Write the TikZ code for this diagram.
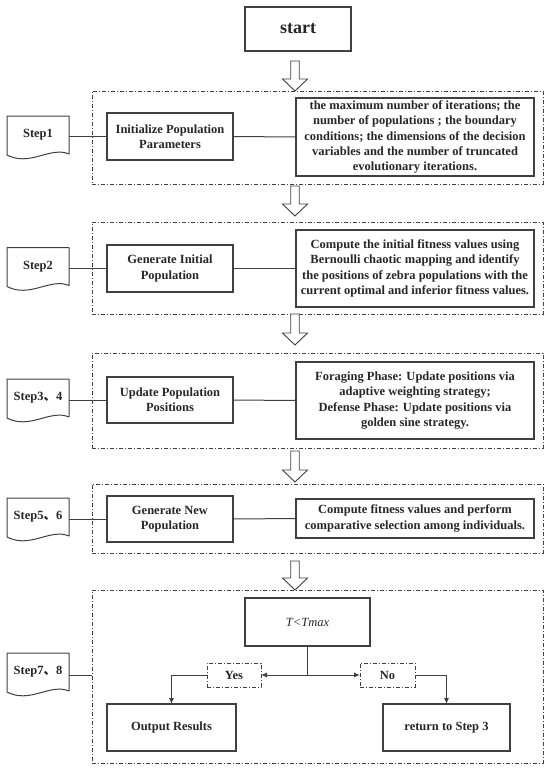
\documentclass[tikz,border=0pt]{standalone}
\usepackage{fontspec}
\setmainfont{Liberation Serif}
\newfontfamily\cjk{Noto Sans CJK SC}
\usetikzlibrary{calc,arrows.meta}
\definecolor{ln}{HTML}{404040}
\definecolor{txt}{HTML}{262626}
\newcommand\harrow[2]{\draw[hollow] let \p1=#1, \p2=#2 in (\x1-4.25pt,\y1) -- (\x1-4.25pt,\y2+12pt) -- (\x1-12.5pt,\y2+12pt) -- (\x1,\y2) -- (\x1+12.5pt,\y2+12pt) -- (\x1+4.25pt,\y2+12pt) -- (\x1+4.25pt,\y1) -- cycle;}
\newcommand\docshape[1]{\draw[docl] (#1.north west) -- (#1.north east) -- (#1.south east) .. controls ($(#1.south east)+(-19,-8)$) and ($(#1.south west)+(23,13)$) .. ($(#1.south west)+(0,1)$) -- cycle;}
\begin{document}
\begin{tikzpicture}[x=1pt,y=-1pt,
  every node/.style={inner sep=0pt, outer sep=0pt, text=txt, align=center, font=\fontsize{12.5}{15.3}\selectfont\bfseries},
  box/.style={draw=ln, line width=1.1pt, minimum width=126pt, minimum height=47pt},
  rbox/.style={draw=ln, line width=1.6pt, minimum width=238pt},
  dashbox/.style={draw=ln, line width=0.9pt, dash pattern=on 4pt off 2pt on 1pt off 2pt},
  dbox/.style={dashbox, minimum width=451pt},
  docn/.style={minimum width=62pt, minimum height=38pt},
  docl/.style={draw=ln, line width=1pt, line join=round},
  conn/.style={draw=ln, line width=1pt},
  tip/.style={conn, -{Latex[length=6pt,width=5pt]}},
  hollow/.style={draw=ln, line width=0.9pt, fill=white, line join=miter}
]
\useasboundingbox (0,0) rectangle (550,776);
\coordinate (ax) at (295,0);

\node[box, minimum width=106pt, minimum height=44pt, font=\fontsize{18}{20}\selectfont\bfseries] (start) at (298,29) {start};

% Step 1
\node[dbox, minimum height=93pt] (d1) at (317.5,137.5) {};
\node[box] (b1) at (170,136.5) {Initialize Population\\Parameters};
\node[rbox, minimum height=77.5pt] (r1) at (415,137) {the maximum number of iterations; the\\number of populations ; the boundary\\conditions; the dimensions of the decision\\variables and the number of truncated\\evolutionary iterations.};
\node[docn] (s1) at (38,135) {Step1};
\docshape{s1}
\draw[conn] (s1.east |- b1.west) -- (b1.west);
\draw[conn] (b1.east) -- (r1.west);

% Step 2
\node[dbox, minimum height=92pt] (d2) at (317.5,268) {};
\node[box] (b2) at (170,268.5) {Generate Initial\\Population};
\node[rbox, minimum height=77pt] (r2) at (415,268.5) {Compute the initial fitness values using\\Bernoulli chaotic mapping and identify\\the positions of zebra populations with the\\current optimal and inferior fitness values.};
\node[docn] (s2) at (38,266.5) {Step2};
\docshape{s2}
\draw[conn] (s2.east |- b2.west) -- (b2.west);
\draw[conn] (b2.east) -- (r2.west);

% Step 3,4
\node[dbox, minimum height=95pt] (d3) at (317.5,400.5) {};
\node[box, minimum height=46pt] (b3) at (170,400) {Update Population\\Positions};
\node[rbox, minimum height=77pt] (r3) at (415,400.5) {Foraging Phase: Update positions via\\adaptive weighting strategy;\\Defense Phase: Update positions via\\golden sine strategy.};
\node[docn] (s3) at (38,398) {Step3{\cjk 、}4};
\docshape{s3}
\draw[conn] (s3.east |- b3.west) -- (b3.west);
\draw[conn] (b3.east) -- (r3.west);

% Step 5,6
\node[dbox, minimum height=69pt] (d4) at (317.5,518.5) {};
\node[box, minimum height=46pt] (b4) at (170,519) {Generate New\\Population};
\node[rbox, minimum height=39pt] (r4) at (415,518.5) {Compute fitness values and perform\\comparative selection among individuals.};
\node[docn] (s4) at (38,517) {Step5{\cjk 、}6};
\docshape{s4}
\draw[conn] (s4.east |- b4.west) -- (b4.west);
\draw[conn] (b4.east) -- (r4.west);

% Step 7,8
\node[dbox, minimum height=173pt] (d5) at (317.5,676.5) {};
\node[box, minimum width=125pt, minimum height=48pt, font=\fontsize{12.5}{15}\selectfont\itshape] (tm) at (307.5,622) {T<Tmax};
\node[dashbox, minimum width=54pt, minimum height=24pt] (yes) at (234,675) {Yes};
\node[dashbox, minimum width=55pt, minimum height=24pt] (no) at (387.5,675) {No};
\node[box, minimum width=129pt] (out) at (171.5,727.5) {Output Results};
\node[box, minimum width=127pt] (ret) at (446.5,727.5) {return to Step 3};
\node[docn] (s7) at (38,672) {Step7{\cjk 、}8};
\docshape{s7}
\coordinate (j) at (tm.south |- yes.east);
\draw[conn] (tm.south) -- (j);
\draw[tip] (j) -- (yes.east);
\draw[tip] (j) -- (no.west);
\draw[tip] (yes.west) -| (out.north);
\draw[tip] (no.east) -| (ret.north);
\draw[conn] (s7.east |- yes.west) -- (d5.west |- yes.west);

% hollow arrows
\harrow{($(ax|-start.south)+(0,10)$)}{(ax|-d1.north)}
\harrow{($(ax|-d1.south)+(0,2)$)}{($(ax|-d2.north)+(0,-6)$)}
\harrow{(ax|-d2.south)}{($(ax|-d3.north)+(0,-8)$)}
\harrow{($(ax|-d3.south)+(0,3)$)}{($(ax|-d4.north)+(0,-2)$)}
\harrow{($(ax|-d4.south)+(0,8)$)}{(ax|-d5.north)}
\end{tikzpicture}
\end{document}
